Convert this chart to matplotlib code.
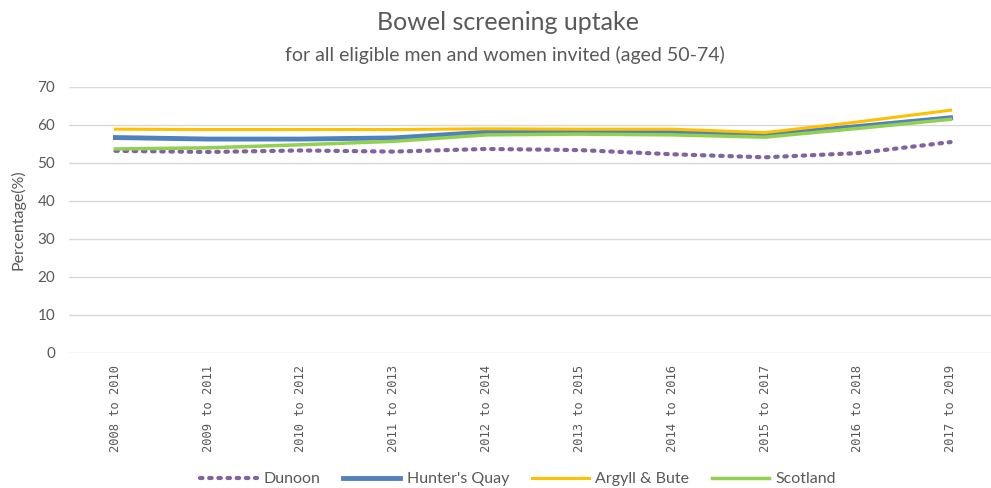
import matplotlib
matplotlib.use("Agg")
import matplotlib.pyplot as plt

categories = ["2008 to 2010", "2009 to 2011", "2010 to 2012", "2011 to 2013", "2012 to 2014",
              "2013 to 2015", "2014 to 2016", "2015 to 2017", "2016 to 2018", "2017 to 2019"]
dunoon = [53.2, 52.9, 53.3, 53.0, 53.7, 53.4, 52.3, 51.5, 52.6, 55.5]
hunters_quay = [56.7, 56.3, 56.3, 56.6, 58.1, 58.2, 58.3, 57.4, 59.6, 61.9]
argyll_bute = [58.9, 58.8, 58.8, 58.8, 59.0, 58.9, 58.9, 58.0, 60.8, 63.9]
scotland = [53.7, 54.0, 54.8, 55.7, 57.4, 57.6, 57.4, 56.8, 59.1, 61.5]
yticks = [0, 10, 20, 30, 40, 50, 60, 70]

W, H = 991, 488
fig = plt.figure(figsize=(W / 100, H / 100), dpi=100)
ax = fig.add_axes([69 / W, (H - 353) / H, 928 / W, 266 / H])

x = list(range(len(categories)))
txt = "#595959"
font = ["Lato", "DejaVu Sans"]

ax.plot(x, dunoon, color="#8064A2", lw=3, linestyle=(0, (0.6, 1.6)), dash_capstyle="round",
        label="Dunoon", zorder=3)
ax.plot(x, hunters_quay, color="#4F81BD", lw=3.5, label="Hunter's Quay", zorder=3)
ax.plot(x, argyll_bute, color="#FFC000", lw=2.2, label="Argyll & Bute", zorder=3)
ax.plot(x, scotland, color="#92D050", lw=2.5, label="Scotland", zorder=3)

ax.set_xlim(-0.5, len(categories) - 0.5)
ax.set_ylim(0, 70)
ax.set_yticks(yticks)
ax.grid(axis="y", color="#D9D9D9", lw=1)
ax.set_axisbelow(True)
for s in ax.spines.values():
    s.set_visible(False)
ax.tick_params(axis="both", length=0, colors=txt)
ax.set_xticks(x)
ax.set_xticklabels(categories, rotation=90, family="DejaVu Sans Mono", fontsize=8.7, color=txt)
for lab in ax.get_yticklabels():
    lab.set_family(font)
    lab.set_fontsize(11)
ax.tick_params(axis="y", pad=10)
ax.tick_params(axis="x", pad=9)

fig.text(18 / W, (H - 220) / H, "Percentage(%)", rotation=90, ha="center", va="center",
         color=txt, family=font, fontsize=11.5)

fig.text(508 / W, (H - 22) / H, "Bowel screening uptake", ha="center", va="center",
         color=txt, family=font, fontsize=18)
fig.text(505 / W, (H - 55) / H, "for all eligible men and women invited (aged 50-74)",
         ha="center", va="center", color=txt, family=font, fontsize=14)

leg = fig.legend(loc="center", bbox_to_anchor=(518 / W, (H - 479) / H), ncol=4, frameon=False,
                 handlelength=3.6, columnspacing=1.4, handletextpad=0.4,
                 prop={"family": font, "size": 11.5})
for t in leg.get_texts():
    t.set_color(txt)

fig.savefig("out.png", dpi=100)
